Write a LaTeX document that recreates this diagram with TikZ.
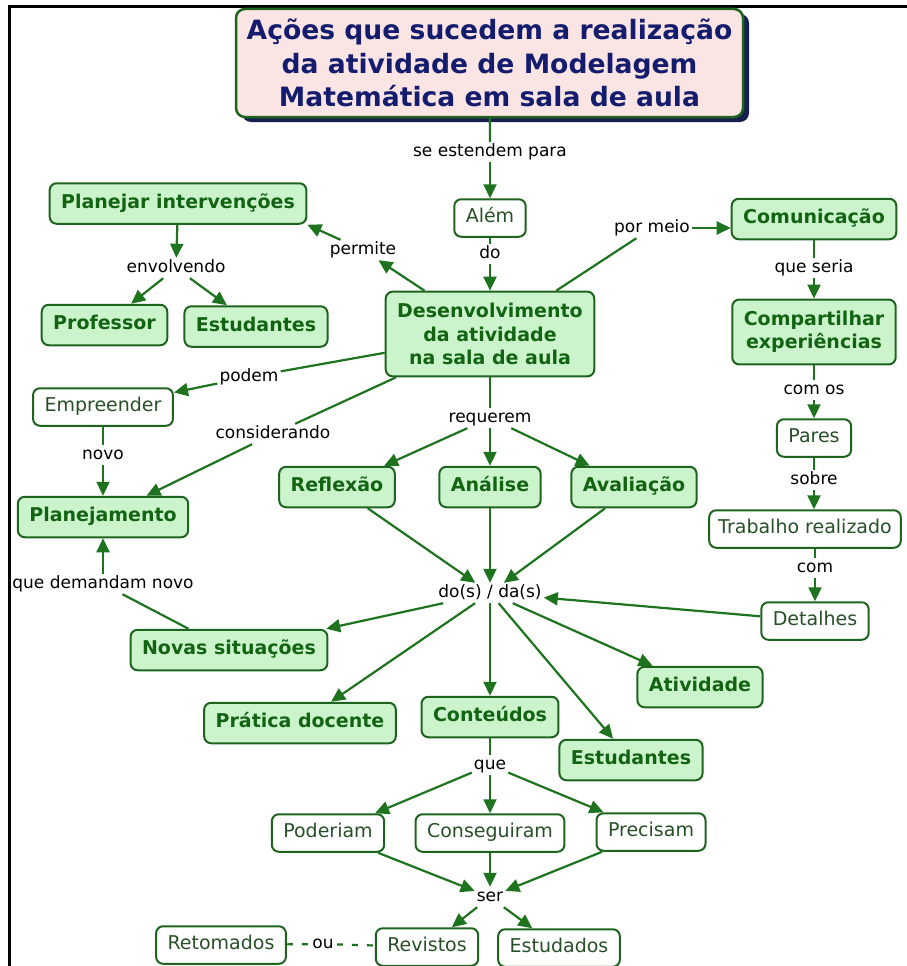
\documentclass[tikz,border=0pt]{standalone}
\usepackage{fontspec}
\setmainfont{DejaVu Sans}
\usetikzlibrary{arrows.meta,shadows}

\definecolor{edgegreen}{RGB}{30,115,30}
\definecolor{boxgreen}{RGB}{30,100,30}
\definecolor{fillgreen}{RGB}{204,244,204}
\definecolor{textgreen}{RGB}{18,100,18}
\definecolor{plaintext}{RGB}{40,80,40}
\definecolor{titlefill}{RGB}{251,228,228}
\definecolor{titletext}{RGB}{20,28,110}
\definecolor{titleshadow}{RGB}{22,32,80}

\tikzset{
  concept/.style={draw=boxgreen, line width=2pt, rounded corners=7pt, fill=fillgreen,
    text=textgreen, font=\bfseries\fontsize{19}{23.5}\selectfont,
    inner xsep=11.5pt, inner ysep=11pt, text height=14pt, text depth=4.5pt},
  multiconcept/.style={draw=boxgreen, line width=2pt, rounded corners=7pt, fill=fillgreen,
    text=textgreen, font=\bfseries\fontsize{19}{23.5}\selectfont,
    inner xsep=11.5pt, inner ysep=11.5pt, align=center},
  plain/.style={draw=boxgreen, line width=2pt, rounded corners=7pt, fill=white,
    text=plaintext, font=\fontsize{19}{23.5}\selectfont,
    inner xsep=11.5pt, inner ysep=9.5pt, text height=14pt, text depth=4.5pt},
  linkp/.style={font=\fontsize{17}{20}\selectfont, text=black, inner sep=2pt,
    text height=12.5pt, text depth=3.5pt},
  conn/.style={draw=edgegreen, line width=2.2pt},
  arr/.style={conn, -{Triangle[length=14pt,width=13pt]}},
  titlebox/.style={draw=boxgreen, line width=2.5pt, rounded corners=9pt, fill=titlefill,
    text=titletext, font=\bfseries\fontsize{26.6}{33.5}\selectfont, align=center,
    minimum width=507pt, minimum height=108pt,
    drop shadow={shadow xshift=6pt, shadow yshift=-5pt, fill=titleshadow, opacity=1}},
}

\begin{document}
\begin{tikzpicture}[x=1pt,y=-1pt]
\useasboundingbox (0,0) rectangle (907,966);
\fill[white] (0,0) rectangle (907,966);
% page frame (top and left edges)
\draw[black, line width=3pt] (9.5,966) -- (9.5,6.5) -- (907,6.5);

% ---- concepts ----
\node[titlebox] (title) at (489.5,63) {Ações que sucedem a realização\\da atividade de Modelagem\\Matemática em sala de aula};

\node[plain] (alem) at (490,218) {Além};
\node[multiconcept] (desenv) at (490,334) {Desenvolvimento\\da atividade\\na sala de aula};

\node[concept] (planint) at (178,203.5) {Planejar intervenções};
\node[concept] (prof) at (104.5,325) {Professor};
\node[concept] (estl) at (256,326.5) {Estudantes};

\node[concept] (comun) at (814,219) {Comunicação};
\node[multiconcept] (compart) at (814,332) {Compartilhar\\experiências};
\node[plain] (pares) at (814,438) {Pares};
\node[plain, inner xsep=9pt] (trab) at (805,529) {Trabalho realizado};
\node[plain] (detal) at (815,621) {Detalhes};

\node[plain] (empre) at (103,407) {Empreender};
\node[concept] (planej) at (103,517) {Planejamento};
\node[concept] (novas) at (229,650) {Novas situações};

\node[concept] (refl) at (337,487) {Reflexão};
\node[concept] (anal) at (490,487) {Análise};
\node[concept] (aval) at (634,487) {Avaliação};

\node[concept] (prat) at (300,723) {Prática docente};
\node[concept] (cont) at (490,717) {Conteúdos};
\node[concept] (estb) at (631,760) {Estudantes};
\node[concept] (ativ) at (700,687) {Atividade};

\node[plain] (poder) at (328,833) {Poderiam};
\node[plain] (consg) at (490,833) {Conseguiram};
\node[plain] (prec) at (651,832) {Precisam};

\node[plain] (retom) at (221,945) {Retomados};
\node[plain] (revis) at (427,947) {Revistos};
\node[plain] (estud) at (559,948) {Estudados};

% ---- linking phrases ----
\node[linkp] (lse) at (490,152) {se estendem para};
\node[linkp] (ldo) at (490,254) {do};
\node[linkp] (lperm) at (363,250) {permite};
\node[linkp] (lenv) at (176,268) {envolvendo};
\node[linkp] (lpor) at (652,228) {por meio};
\node[linkp] (lqueseria) at (814,268) {que seria};
\node[linkp] (lcomos) at (814,390) {com os};
\node[linkp] (lsobre) at (814,480) {sobre};
\node[linkp] (lcom) at (815,568) {com};
\node[linkp] (lpodem) at (249,377) {podem};
\node[linkp] (lconsid) at (273,434) {considerando};
\node[linkp] (lnovo) at (103,455) {novo};
\node[linkp] (ldemand) at (103,584) {que demandam novo};
\node[linkp] (lreq) at (490,418) {requerem};
\node[linkp] (ldos) at (490,593) {do(s) / da(s)};
\node[linkp] (lque) at (490,765) {que};
\node[linkp] (lser) at (490,897) {ser};
\node[linkp, inner xsep=3pt] (lou) at (323,944) {ou};

% ---- connectors ----
\draw[conn] (title) -- (lse);
\draw[arr] (lse) -- (alem);
\draw[conn] (alem) -- (ldo);
\draw[arr] (ldo) -- (desenv);

\draw[arr] (desenv) -- (lperm);
\draw[arr] (lperm) -- (planint.south east);
\draw[arr] (planint) -- (lenv);
\draw[arr] (lenv) -- (prof);
\draw[arr] (lenv) -- (estl);

\draw[conn] (desenv) -- (lpor);
\draw[arr] (lpor) -- (lpor -| comun.west);
\draw[conn] (comun) -- (lqueseria);
\draw[arr] (lqueseria) -- (compart);
\draw[conn] (compart) -- (lcomos);
\draw[arr] (lcomos) -- (pares);
\draw[conn] (pares) -- (lsobre);
\draw[arr] (lsobre) -- (lsobre |- trab.north);
\draw[conn] (lcom |- trab.south) -- (lcom);
\draw[arr] (lcom) -- (detal);
\draw[arr] (detal) -- (ldos);

\draw[conn] (desenv) -- (lpodem);
\draw[arr] (lpodem) -- (empre);
\draw[conn] (empre) -- (lnovo);
\draw[arr] (lnovo) -- (planej);
\draw[conn] (desenv) -- (lconsid);
\draw[arr] (lconsid) -- (planej);
\draw[conn] (novas) -- (ldemand);
\draw[arr] (ldemand) -- (planej);

\draw[conn] (desenv) -- (lreq);
\draw[arr] (lreq) -- (refl);
\draw[arr] (lreq) -- (anal);
\draw[arr] (lreq) -- (aval);
\draw[arr] (refl) -- (ldos);
\draw[arr] (anal) -- (ldos);
\draw[arr] (aval) -- (ldos);

\draw[arr] (ldos) -- (novas);
\draw[arr] (ldos) -- (prat);
\draw[arr] (ldos) -- (cont);
\draw[arr] (ldos) -- (estb);
\draw[arr] (ldos) -- (ativ);

\draw[conn] (cont) -- (lque);
\draw[arr] (lque) -- (poder);
\draw[arr] (lque) -- (consg);
\draw[arr] (lque) -- (prec);
\draw[arr] (poder) -- (lser);
\draw[arr] (consg) -- (lser);
\draw[arr] (prec) -- (lser);
\draw[arr] (lser) -- (revis);
\draw[arr] (lser) -- (estud);

\draw[conn, dash pattern=on 6pt off 9pt] (retom) -- (lou);
\draw[conn, dash pattern=on 6pt off 9pt] (lou) -- (revis);
\end{tikzpicture}
\end{document}
